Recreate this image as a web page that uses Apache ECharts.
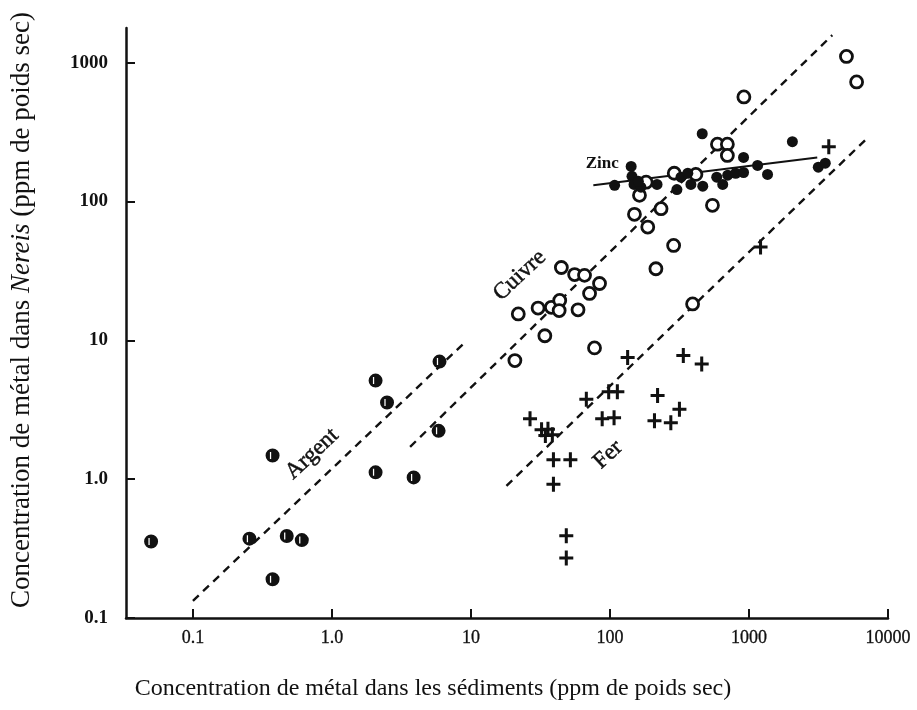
<!DOCTYPE html>
<html>
<head>
<meta charset="utf-8">
<script src="https://cdn.jsdelivr.net/npm/echarts@6/dist/echarts.min.js"></script>
<style>
html,body{margin:0;padding:0;background:#fff;}
#chart{width:917px;height:710px;}
</style>
</head>
<body>
<div id="chart"></div>
<script>
// ---- Data (concentration in sediment [x], in Nereis [y], ppm dry weight) ----
const xTickValues = [0.1, 1, 10, 100, 1000, 10000];
const xTickLabels = ['0.1', '1.0', '10', '100', '1000', '10000'];
const yTickValues = [0.1, 1, 10, 100, 1000];
const yTickLabels = ['0.1', '1.0', '10', '100', '1000'];

const argentPoints = [
  [0.050, 0.356], [0.255, 0.373], [0.374, 1.48], [0.374, 0.19], [0.473, 0.39],
  [0.607, 0.364], [2.06, 5.13], [2.06, 1.12], [2.49, 3.57], [3.87, 1.03],
  [5.85, 2.23], [5.94, 7.03]
];
const cuivrePoints = [
  [20.7, 7.15], [34.0, 10.8], [77.4, 8.83], [21.9, 15.5], [30.4, 17.1],
  [37.9, 17.3], [43.5, 19.4], [43.1, 16.4], [58.9, 16.6], [44.7, 33.5],
  [55.7, 29.8], [65.6, 29.4], [84.1, 25.7], [71.3, 21.8], [150, 80.9],
  [163, 111], [182, 138], [187, 65.5], [233, 88.9], [287, 48.3],
  [214, 32.8], [393, 18.3], [290, 160], [415, 157], [546, 94],
  [593, 259], [699, 259], [699, 215], [919, 567], [5025, 1110], [5945, 728]
];
const zincPoints = [
  [108, 131], [142, 179], [144, 152], [149, 133], [167, 127], [160, 140],
  [218, 133], [303, 122], [324, 150], [363, 160], [382, 133], [461, 308],
  [465, 129], [586, 150], [647, 133], [703, 155], [802, 160], [914, 208],
  [914, 162], [1153, 182], [1360, 157], [2052, 270], [3152, 177], [3539, 189]
];
const ferPoints = [
  [26.6, 2.73], [32.2, 2.27], [35.8, 2.29], [34.3, 2.06], [38.5, 2.09],
  [39.2, 1.38], [51.9, 1.38], [39.2, 0.918], [48.5, 0.391], [48.5, 0.271],
  [67.6, 3.77], [97.9, 4.27], [113, 4.27], [87.9, 2.73], [107, 2.77],
  [134, 7.52], [220, 4.0], [209, 2.64], [274, 2.55], [316, 3.19],
  [337, 7.77], [457, 6.75], [1211, 47.1], [3750, 248]
];

// Fitted lines (end points)
const argentLine = [[0.1, 0.133], [8.87, 9.5]];
const cuivreLine = [[3.65, 1.71], [3972, 1581]];
const ferLine = [[18.0, 0.895], [7080, 286]];
const zincLine = [[75.9, 131], [3097, 208]];

// Line label anchors: [x, y, text]
const lineLabels = [
  [0.72, 1.52, 'Argent'],
  [22.4, 29.4, 'Cuivre'],
  [97, 1.5, 'Fer']
];
const zincLabel = [[87.9, 189, 'Zinc']];

const xTitle = 'Concentration de métal dans les sédiments (ppm de poids sec)';
const yTitleA = 'Concentration de métal dans ';
const yTitleB = 'Nereis';
const yTitleC = ' (ppm de poids sec)';

// ---- Chart ----
const INK = '#111111';
const SERIF = '"Liberation Serif", "DejaVu Serif", serif';

function labelFor(values, labels) {
  return function (v) {
    for (let i = 0; i < values.length; i++) {
      if (Math.abs(Math.log10(v) - Math.log10(values[i])) < 1e-6) return labels[i];
    }
    return '';
  };
}

const argentSymbol = 'path://M10 0 A10 10 0 1 1 10 20 A10 10 0 1 1 10 0 Z M6.2 5 L6.2 15 L8 15 L8 5 Z';
const plusSymbol = 'path://M0 5.2 L12 5.2 L12 7.8 L0 7.8 Z M4.7 0 L7.3 0 L7.3 13 L4.7 13 Z';

const dashStyle = { color: INK, width: 2.4, type: [8, 6] };

const chart = echarts.init(document.getElementById('chart'));
chart.setOption({
  backgroundColor: '#ffffff',
  animation: false,
  grid: { left: 125, right: 29, top: 28, bottom: 92, containLabel: false },
  xAxis: {
    type: 'log',
    logBase: 10,
    min: 0.033,
    max: 10000,
    name: xTitle,
    nameLocation: 'middle',
    nameGap: 59,
    nameTextStyle: { fontFamily: SERIF, fontSize: 24, color: INK, padding: [0, 148, 0, 0] },
    axisLine: { lineStyle: { color: INK, width: 2.5 } },
    axisTick: { inside: true, length: 9, lineStyle: { color: INK, width: 2 }, customValues: xTickValues },
    axisLabel: {
      customValues: xTickValues,
      formatter: labelFor(xTickValues, xTickLabels),
      fontFamily: SERIF, fontSize: 18, color: INK, margin: 11,
      textBorderColor: INK, textBorderWidth: 0.3
    },
    splitLine: { show: false },
    minorTick: { show: false }
  },
  yAxis: {
    type: 'log',
    logBase: 10,
    min: 0.1,
    max: 1780,
    name: '{a|' + yTitleA + '}{b|' + yTitleB + '}{a|' + yTitleC + '}',
    nameLocation: 'middle',
    nameGap: 91,
    nameRotate: 90,
    nameTextStyle: {
      padding: [0, 0, 0, 26],
      rich: {
        a: { fontFamily: SERIF, fontSize: 27, color: INK },
        b: { fontFamily: SERIF, fontSize: 27, color: INK, fontStyle: 'italic' }
      }
    },
    axisLine: { lineStyle: { color: INK, width: 2.5 } },
    axisTick: { inside: true, length: 9, lineStyle: { color: INK, width: 2 }, customValues: yTickValues },
    axisLabel: {
      customValues: yTickValues,
      formatter: labelFor(yTickValues, yTickLabels),
      fontFamily: SERIF, fontSize: 19, fontWeight: 'bold', color: INK, margin: 18
    },
    splitLine: { show: false },
    minorTick: { show: false }
  },
  series: [
    { type: 'line', data: argentLine, symbol: 'none', lineStyle: dashStyle, silent: true, z: 1 },
    { type: 'line', data: cuivreLine, symbol: 'none', lineStyle: dashStyle, silent: true, z: 1 },
    { type: 'line', data: ferLine, symbol: 'none', lineStyle: dashStyle, silent: true, z: 1 },
    { type: 'line', data: zincLine, symbol: 'none', lineStyle: { color: INK, width: 2 }, silent: true, z: 1 },
    {
      name: 'Argent', type: 'scatter', data: argentPoints, symbol: argentSymbol, symbolSize: 14,
      itemStyle: { color: INK, opacity: 1 }, z: 3
    },
    {
      name: 'Cuivre', type: 'scatter', data: cuivrePoints, symbol: 'circle', symbolSize: 12,
      itemStyle: { color: '#ffffff', borderColor: INK, borderWidth: 2.8, opacity: 1 }, z: 3
    },
    {
      name: 'Zinc', type: 'scatter', data: zincPoints, symbol: 'circle', symbolSize: 11,
      itemStyle: { color: INK, opacity: 1 }, z: 4
    },
    {
      name: 'Fer', type: 'scatter', data: ferPoints, symbol: plusSymbol, symbolSize: [14, 15],
      itemStyle: { color: INK, opacity: 1 }, z: 3
    },
    {
      type: 'scatter', data: lineLabels, symbolSize: 0, silent: true, z: 5,
      itemStyle: { opacity: 1 },
      label: {
        show: true, position: 'inside', rotate: 43,
        formatter: p => p.data[2],
        fontFamily: SERIF, fontSize: 23, color: INK, opacity: 1,
        textBorderColor: INK, textBorderWidth: 0.5
      }
    },
    {
      type: 'scatter', data: zincLabel, symbolSize: 0, silent: true, z: 5,
      itemStyle: { opacity: 1 },
      label: {
        show: true, position: 'inside',
        formatter: p => p.data[2],
        fontFamily: SERIF, fontSize: 17, fontWeight: 'bold', color: INK, opacity: 1
      }
    }
  ]
});
</script>
</body>
</html>
